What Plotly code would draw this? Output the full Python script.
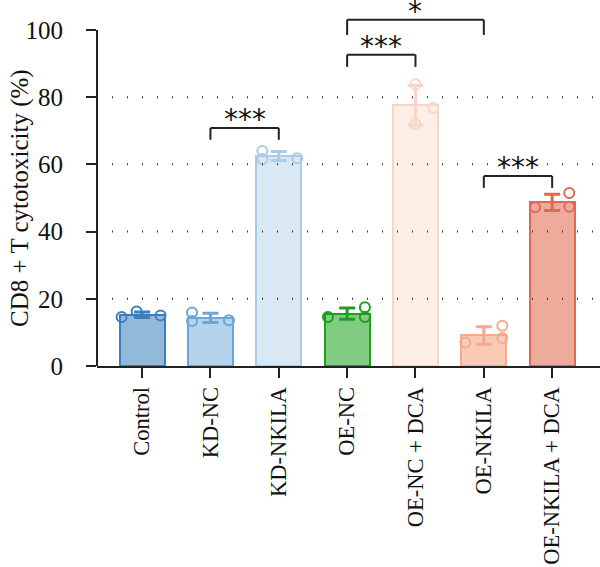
import numpy as np
import plotly.graph_objects as go

categories = ["Control", "KD-NC", "KD-NKILA", "OE-NC", "OE-NC + DCA", "OE-NKILA", "OE-NKILA + DCA"]
replicates = [
    [14.6, 16.2, 15.0],
    [15.9, 13.4, 13.6],
    [64.0, 61.6, 61.8],
    [14.6, 17.5, 14.6],
    [83.8, 76.8, 72.0],
    [12.0, 7.0, 8.3],
    [51.5, 47.2, 47.4],
]
jitter = [
    [-0.30, -0.08, 0.27],
    [-0.27, -0.27, 0.27],
    [-0.24, -0.24, 0.27],
    [-0.28, 0.26, 0.26],
    [0.0, 0.26, 0.0],
    [0.27, -0.27, 0.27],
    [0.25, -0.25, 0.25],
]
fill_colors = ["#93b9da", "#b5d3ea", "#d9e8f3", "#80cc80", "#fdeee6", "#f9cbb6", "#eeab9c"]
edge_colors = ["#3b7fc0", "#6ca6d6", "#aacbe6", "#1f9e1f", "#f7d6c6", "#f3ab8d", "#de6a52"]

# significance comparisons: (left idx, right idx, bar y, drop y, label)
comparisons = [
    (1, 2, 70.8, 67.3, "***"),
    (3, 4, 92.6, 89.0, "***"),
    (3, 5, 103.0, 98.5, "*"),
    (5, 6, 56.5, 53.0, "***"),
]

yticks = [0, 20, 40, 60, 80, 100]
gridlines = [20, 40, 60, 80]

means = [float(np.mean(r)) for r in replicates]
sds = [float(np.std(r, ddof=1)) for r in replicates]
xs = list(range(len(categories)))

fig = go.Figure()
for i, cat in enumerate(categories):
    fig.add_trace(go.Bar(
        x=[i], y=[means[i]], width=0.66,
        marker=dict(color=fill_colors[i], line=dict(color=edge_colors[i], width=2)),
        error_y=dict(type="data", array=[sds[i]], color=edge_colors[i], thickness=3, width=8),
        showlegend=False, hoverinfo="skip",
    ))
    fig.add_trace(go.Scatter(
        x=[i + j for j in jitter[i]], y=replicates[i], mode="markers",
        marker=dict(symbol="circle-open", size=10, color=edge_colors[i], line=dict(width=2, color=edge_colors[i])),
        showlegend=False, hoverinfo="skip",
    ))

shapes = []
for g in gridlines:
    shapes.append(dict(type="line", xref="paper", yref="y", x0=0, x1=1, y0=g, y1=g,
                       line=dict(color="#333", width=2, dash="1px,14px"), layer="above"))
# y axis line from 0 to 100
shapes.append(dict(type="line", xref="paper", yref="y", x0=0, x1=0, y0=0, y1=100,
                   line=dict(color="#222", width=2), layer="above"))

annotations = []
for a, b, ytop, ydrop, label in comparisons:
    shapes.append(dict(type="line", xref="x", yref="y", x0=a, x1=a, y0=ydrop, y1=ytop, line=dict(color="#222", width=2)))
    shapes.append(dict(type="line", xref="x", yref="y", x0=a, x1=b, y0=ytop, y1=ytop, line=dict(color="#222", width=2)))
    shapes.append(dict(type="line", xref="x", yref="y", x0=b, x1=b, y0=ydrop, y1=ytop, line=dict(color="#222", width=2)))
    annotations.append(dict(x=(a + b) / 2, y=ytop, xref="x", yref="y", text=label, showarrow=False,
                            yanchor="bottom", yshift=-10, font=dict(family="DejaVu Sans", size=28, color="#111")))

annotations.append(dict(text="CD8 + T cytotoxicity (%)", xref="paper", yref="y", x=0, y=50,
                        xshift=-77, textangle=-90, showarrow=False, xanchor="center", yanchor="middle",
                        font=dict(family="Liberation Serif", size=25, color="#111")))

fig.update_layout(
    width=600, height=567,
    margin=dict(l=97, r=0, t=0, b=201, autoexpand=False),
    plot_bgcolor="white", paper_bgcolor="white",
    shapes=shapes, annotations=annotations,
    bargap=0,
    xaxis=dict(range=[-0.66, 6.70], tickvals=xs, ticktext=categories, tickangle=-90, automargin=False,
               showline=True, linecolor="#222", linewidth=2, ticks="outside", ticklen=10, tickwidth=2,
               tickcolor="#222", showgrid=False, zeroline=False,
               tickfont=dict(family="Liberation Serif", size=22.5, color="#111")),
    yaxis=dict(range=[0, 108.9], tickvals=yticks, showline=False, ticks="outside", ticklen=10, tickwidth=2,
               tickcolor="#222", showgrid=False, zeroline=False, ticklabelstandoff=18, automargin=False,
               tickfont=dict(family="Liberation Serif", size=25, color="#111")),
)

fig.write_html("out.html")
